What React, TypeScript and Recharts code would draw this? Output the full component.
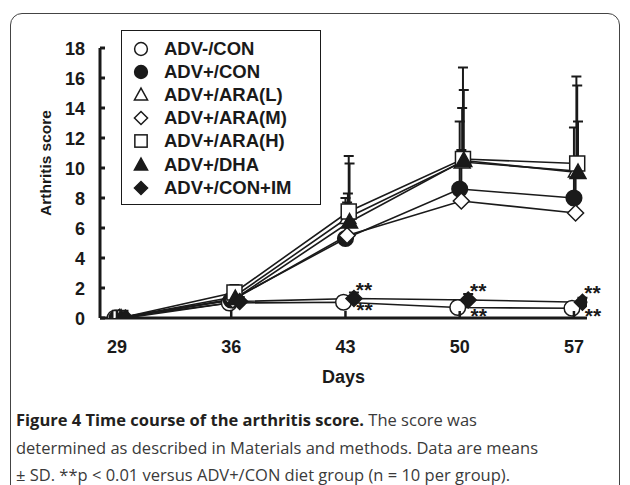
import React from "react";
import { LineChart, Line, XAxis, YAxis, ErrorBar, Legend, LabelList } from "recharts";

const days = [29, 36, 43, 50, 57];
const yTicks = [0, 2, 4, 6, 8, 10, 12, 14, 16, 18];

const seriesNames = ["ADV-/CON", "ADV+/CON", "ADV+/ARA(L)", "ADV+/ARA(M)", "ADV+/ARA(H)", "ADV+/DHA", "ADV+/CON+IM"];

// means
const advNegCon = [0, 1.0, 1.05, 0.7, 0.65];
const advPosCon = [0, 1.2, 5.3, 8.6, 8.0];
const araL = [0, 1.4, 6.7, 10.4, 9.8];
const araM = [0, 1.2, 5.5, 7.8, 7.0];
const araH = [0, 1.7, 7.1, 10.6, 10.3];
const dha = [0, 1.3, 6.4, 10.5, 9.7];
const conIm = [0, 1.1, 1.3, 1.2, 1.05];

// SD (only the upper bar is drawn)
const advNegConSd = [0, 0.3, 0.4, 0.5, 0.4];
const advPosConSd = [0, 0.4, 2.7, 4.5, 4.7];
const araLSd = [0, 0.5, 1.6, 3.6, 6.3];
const araMSd = [0, 0.4, 2.2, 3.4, 3.0];
const araHSd = [0, 0.5, 3.7, 6.1, 5.2];
const dhaSd = [0, 0.5, 3.9, 4.7, 3.4];
const conImSd = [0, 0.3, 0.4, 0.4, 0.3];

// **p < 0.01 vs ADV+/CON
const significant = [false, false, true, true, true];

const means = [advNegCon, advPosCon, araL, araM, araH, dha, conIm];
const sds = [advNegConSd, advPosConSd, araLSd, araMSd, araHSd, dhaSd, conImSd];

// marker look + small horizontal dodge (in days) so the symbols don't sit exactly on top of each other
const markerStyles = [
  { shape: "circle", filled: false, dodge: -0.12 },
  { shape: "circle", filled: true, dodge: 0 },
  { shape: "triangle", filled: false, dodge: 0.15 },
  { shape: "diamond", filled: false, dodge: 0.1 },
  { shape: "square", filled: false, dodge: 0.2 },
  { shape: "triangle", filled: true, dodge: 0.25 },
  { shape: "diamond", filled: true, dodge: 0.52 },
];

const INK = "#1a1a1a";
const AXIS_FONT = "'Liberation Sans', Arial, sans-serif";

function Marker({ cx, cy, shape, filled, s = 1 }: any) {
  const p = { fill: filled ? INK : "#fff", stroke: INK, strokeWidth: 1.5 };
  if (cx == null || cy == null) return null;
  if (shape === "circle") return <circle cx={cx} cy={cy} r={7.8 * s} {...p} />;
  if (shape === "square") return <rect x={cx - 7.5 * s} y={cy - 7.5 * s} width={15 * s} height={15 * s} {...p} />;
  if (shape === "triangle")
    return <polygon points={`${cx},${cy - 8.5 * s} ${cx + 8 * s},${cy + 6 * s} ${cx - 8 * s},${cy + 6 * s}`} {...p} />;
  return <polygon points={`${cx},${cy - 8 * s} ${cx + 8 * s},${cy} ${cx},${cy + 8 * s} ${cx - 8 * s},${cy}`} {...p} />;
}

const XTick = ({ x, y, payload }: any) => (
  <g>
    <line x1={x} y1={y} x2={x} y2={y - 7} stroke={INK} strokeWidth={2.5} />
    <text x={x} y={y + 35} textAnchor="middle" fontFamily={AXIS_FONT} fontWeight="bold" fontSize={18} fill={INK}>
      {payload.value}
    </text>
  </g>
);

const YTick = ({ x, y, payload }: any) => (
  <g>
    <line x1={x} y1={y} x2={x + 5} y2={y} stroke={INK} strokeWidth={3} />
    <text x={x - 15} y={y + 6.5} textAnchor="end" fontFamily={AXIS_FONT} fontWeight="bold" fontSize={18} fill={INK}>
      {payload.value}
    </text>
  </g>
);

const sigLabel = (dx: number, dy: number) => (props: any) => {
  const { x, y, value, index } = props;
  if (!value) return null;
  return (
    <text key={index} x={x + dx} y={y + dy} textAnchor="middle" fontFamily={AXIS_FONT} fontWeight="bold" fontSize={21} fill={INK}>
      {value}
    </text>
  );
};

const LegendBox = () => (
  <div
    style={{
      border: `1.3px solid ${INK}`,
      background: "#fff",
      padding: "6px 0 5px 0",
      boxSizing: "border-box",
      width: 200,
    }}
  >
    {seriesNames.map((name, i) => (
      <div key={name} style={{ display: "flex", alignItems: "center", height: 23.2 }}>
        <svg width={40} height={20} style={{ flex: "none" }}>
          <Marker cx={19} cy={10} shape={markerStyles[i].shape} filled={markerStyles[i].filled} s={0.82} />
        </svg>
        <span
          style={{ marginLeft: 2, fontFamily: AXIS_FONT, fontWeight: "bold", fontSize: 18.5, color: INK, lineHeight: "20px" }}
        >
          {name}
        </span>
      </div>
    ))}
  </div>
);

export default function App() {
  const seriesData = seriesNames.map((_, s) =>
    days.map((d, i) => ({
      x: d + markerStyles[s].dodge,
      y: means[s][i],
      err: [0, sds[s][i]],
      sig: significant[i] ? "**" : "",
    }))
  );

  return (
    <div style={{ position: "relative", width: 614, height: 477, fontFamily: AXIS_FONT }}>
      <div
        style={{
          position: "absolute",
          left: 2,
          top: 5,
          width: 610,
          height: 490,
          border: "1.5px solid #444",
          borderRadius: 12,
          boxSizing: "border-box",
        }}
      />
      <div style={{ position: "absolute", left: 0, top: 0 }}>
        <LineChart width={614} height={385} margin={{ top: 40, right: 35, left: 0, bottom: 0 }}>
          <XAxis
            type="number"
            dataKey="x"
            domain={[27.96, 57.8]}
            ticks={days}
            allowDataOverflow
            height={75}
            tickSize={0}
            tickMargin={0}
            tick={<XTick />}
            axisLine={{ stroke: INK, strokeWidth: 3 }}
            tickLine={false}
            label={(p: any) => (
              <text
                x={p.viewBox.x + p.viewBox.width / 2}
                y={p.viewBox.y + 65}
                textAnchor="middle"
                fontFamily={AXIS_FONT}
                fontWeight="bold"
                fontSize={18}
                fill={INK}
              >
                Days
              </text>
            )}
          />
          <YAxis
            type="number"
            domain={[0, 18]}
            ticks={yTicks}
            allowDataOverflow
            width={92}
            tickSize={0}
            tickMargin={0}
            tick={<YTick />}
            axisLine={{ stroke: INK, strokeWidth: 3 }}
            tickLine={false}
            label={(p: any) => {
              const cx = p.viewBox.x + 37;
              const cy = p.viewBox.y + p.viewBox.height / 2 - 20;
              return (
                <text
                  x={cx}
                  y={cy}
                  transform={`rotate(-90 ${cx} ${cy})`}
                  textAnchor="middle"
                  dominantBaseline="central"
                  fontFamily={AXIS_FONT}
                  fontWeight="bold"
                  fontSize={15.5}
                  fill={INK}
                >
                  Arthritis score
                </text>
              );
            }}
          />
          <Legend
            layout="vertical"
            align="center"
            verticalAlign="middle"
            content={<LegendBox />}
            wrapperStyle={{ position: "absolute", left: 113, top: 22, width: 200 }}
          />
          {seriesNames.map((name, s) => (
            <Line
              key={name}
              name={name}
              data={seriesData[s]}
              dataKey="y"
              stroke={INK}
              strokeWidth={1.6}
              isAnimationActive={false}
              dot={(p: any) => (
                <Marker key={`${name}-${p.index}`} cx={p.cx} cy={p.cy} shape={markerStyles[s].shape} filled={markerStyles[s].filled} />
              )}
              activeDot={false}
            >
              <ErrorBar dataKey="err" direction="y" width={5} stroke={INK} strokeWidth={2} />
              {s === 0 ? <LabelList dataKey="sig" content={sigLabel(21, 15)} /> : null}
              {s === 6 ? <LabelList dataKey="sig" content={sigLabel(10, -2)} /> : null}
            </Line>
          ))}
        </LineChart>
      </div>
      <div
        style={{
          position: "absolute",
          left: 8,
          top: 398,
          fontFamily: "'Open Sans', sans-serif",
          fontSize: 16.5,
          lineHeight: "27.5px",
          color: "#3a3a3a",
          whiteSpace: "nowrap",
        }}
      >
        <div>
          <b style={{ color: "#231f20", fontWeight: 700 }}>Figure 4 Time course of the arthritis score.</b> The score was
        </div>
        <div>determined as described in Materials and methods. Data are means</div>
        <div>± SD. **p &lt; 0.01 versus ADV+/CON diet group (n = 10 per group).</div>
      </div>
    </div>
  );
}
